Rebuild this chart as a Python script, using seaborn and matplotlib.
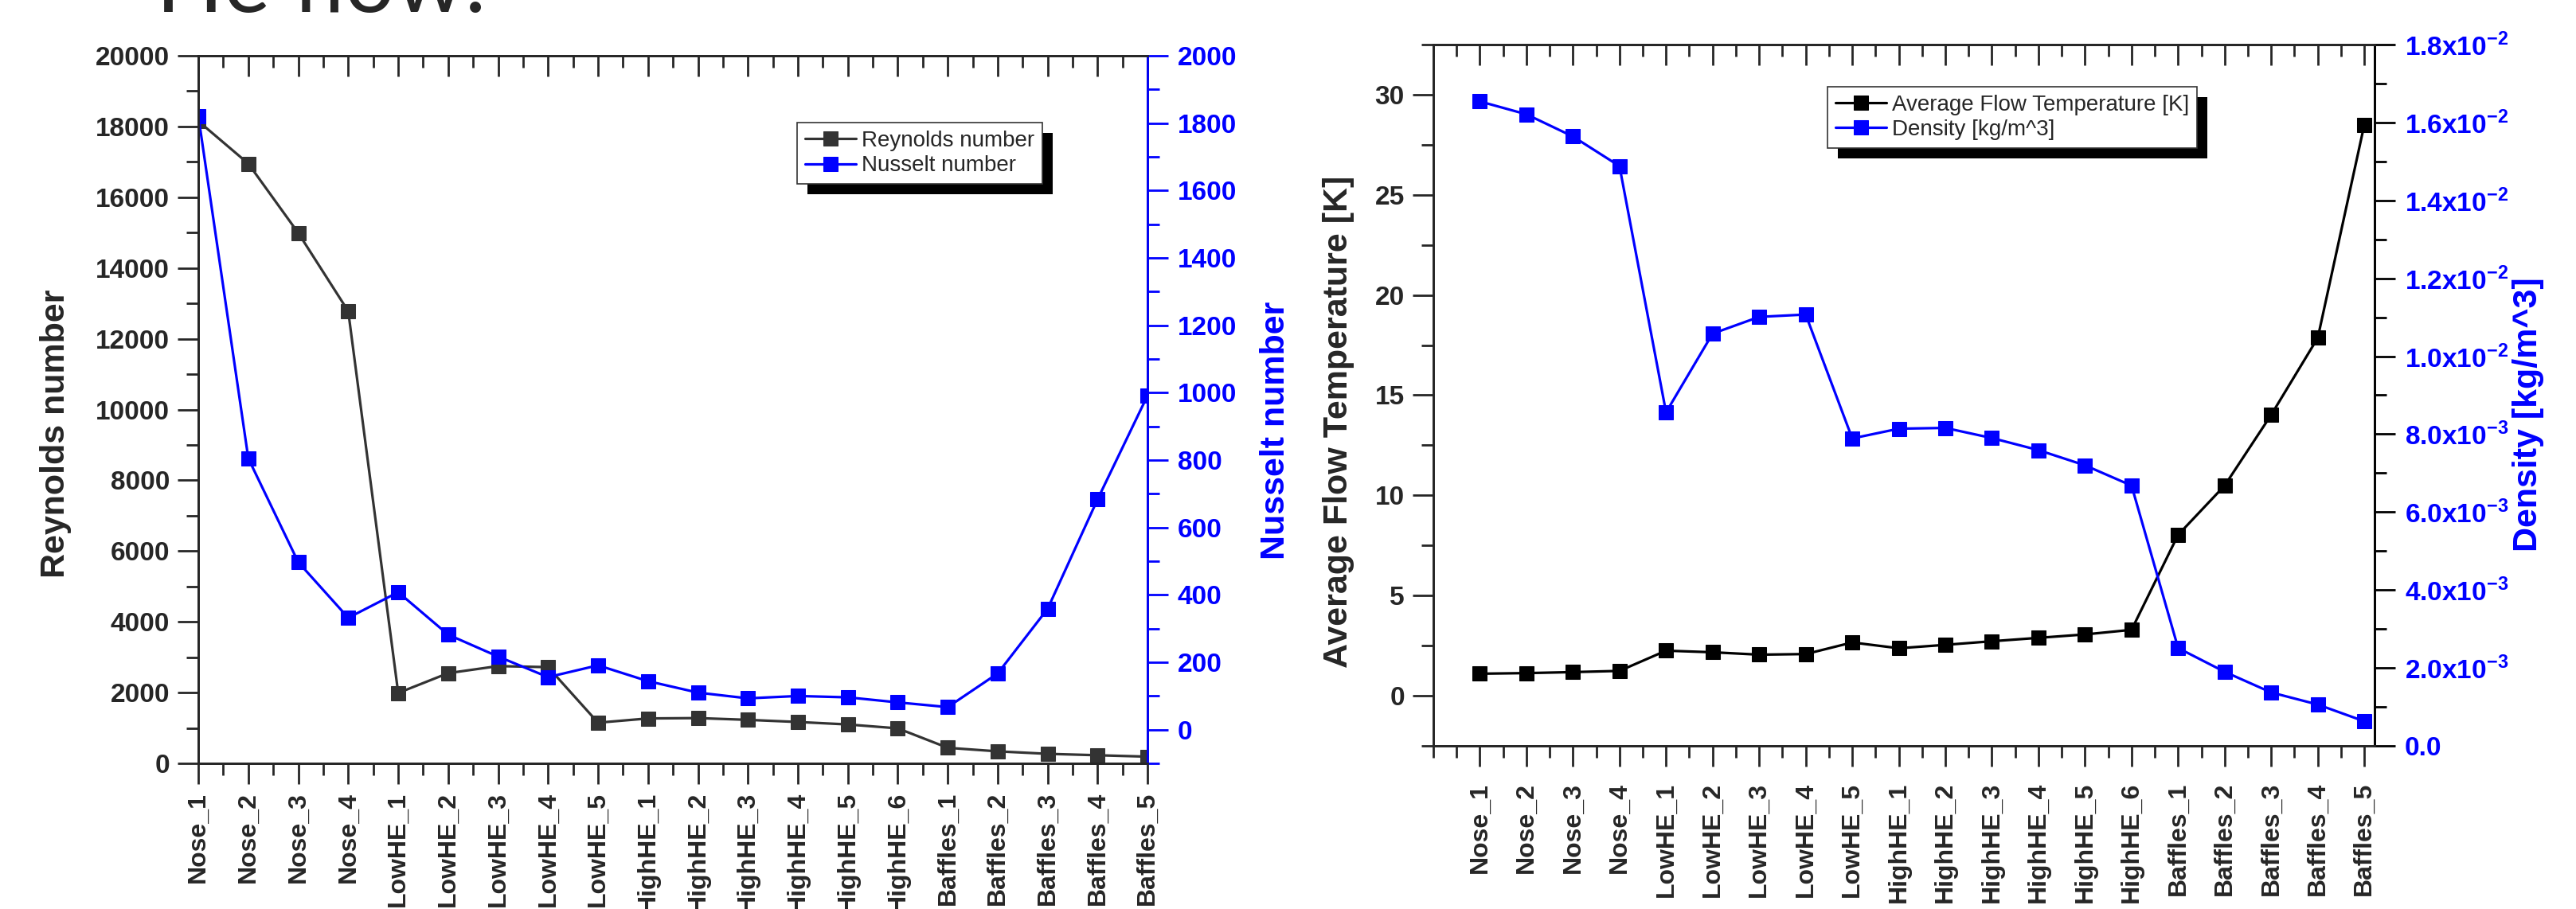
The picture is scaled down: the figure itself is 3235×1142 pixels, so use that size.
import numpy as np
import pandas as pd
import matplotlib
matplotlib.use("Agg")
import matplotlib.pyplot as plt
import seaborn as sns
from matplotlib.ticker import MultipleLocator, FuncFormatter
from matplotlib.patches import Rectangle
from matplotlib.transforms import offset_copy

zones = ["Nose_1", "Nose_2", "Nose_3", "Nose_4",
         "LowHE_1", "LowHE_2", "LowHE_3", "LowHE_4", "LowHE_5",
         "HighHE_1", "HighHE_2", "HighHE_3", "HighHE_4", "HighHE_5", "HighHE_6",
         "Baffles_1", "Baffles_2", "Baffles_3", "Baffles_4", "Baffles_5"]

reynolds = [18150, 16950, 14990, 12780, 1990, 2550, 2750, 2720, 1150,
            1270, 1280, 1230, 1170, 1100, 990, 440, 340, 270, 230, 190]
nusselt = [1821, 805, 497, 332, 408, 282, 217, 156, 191,
           144, 110, 93, 100, 96, 81, 67, 167, 359, 684, 992]
temperature = [1.10, 1.13, 1.18, 1.24, 2.25, 2.17, 2.05, 2.08, 2.66,
               2.37, 2.54, 2.72, 2.89, 3.06, 3.29, 8.03, 10.49, 14.02, 17.86, 28.5]
density = [0.01654, 0.01621, 0.01564, 0.01488, 0.00856, 0.01058, 0.01101, 0.01107, 0.00789,
           0.00814, 0.00816, 0.00790, 0.00759, 0.00720, 0.00668,
           0.00251, 0.00190, 0.00137, 0.00106, 0.00063]

df = pd.DataFrame({"zone": zones, "pos": np.arange(len(zones)),
                   "Re": reynolds, "Nu": nusselt, "T": temperature, "rho": density})

sns.set_style("ticks")
plt.rcParams["font.family"] = ["Liberation Sans", "DejaVu Sans"]
plt.rcParams["font.weight"] = "bold"
plt.rcParams["mathtext.fontset"] = "custom"
plt.rcParams["mathtext.rm"] = "Liberation Sans:bold"
plt.rcParams["mathtext.bf"] = "Liberation Sans:bold"
plt.rcParams["axes.linewidth"] = 2

GRAY = "#333333"
BLUE = "#0000ff"
TICK = 24
LAB = 31

fig = plt.figure(figsize=(32.35, 11.42), dpi=100)

# slide title, mostly cut off at the top
fig.text(196 / 3235, 1 - 15 / 1142, "He flow:", fontsize=80, fontweight="normal",
         family=["Lato", "DejaVu Sans"], ha="left", va="baseline")

ax1 = fig.add_axes([0.0770, 0.1602, 0.3685, 0.7785])
ax1b = ax1.twinx()
ax2 = fig.add_axes([0.5564, 0.1795, 0.3654, 0.7715])
ax2b = ax2.twinx()

line_kw = dict(marker="s", markersize=13, linewidth=2.3, legend=False)
sns.lineplot(data=df, x="pos", y="Re", ax=ax1, color=GRAY, markeredgecolor=GRAY, **line_kw)
sns.lineplot(data=df, x="pos", y="Nu", ax=ax1b, color=BLUE, markeredgecolor=BLUE, **line_kw)
sns.lineplot(data=df, x="pos", y="T", ax=ax2, color="black", markeredgecolor="black", **line_kw)
sns.lineplot(data=df, x="pos", y="rho", ax=ax2b, color=BLUE, markeredgecolor=BLUE, **line_kw)


def sci_fmt(v, pos):
    if abs(v) < 1e-12:
        return "0.0"
    m, e = f"{v:.1e}".split("e")
    return m + "x10$^{\\mathbf{" + str(int(e)) + "}}$"


def style_pair(ax, axr, xlim, right_color, xpad):
    ax.set_xlim(*xlim)
    ax.set_xticks(df["pos"])
    ax.set_xticklabels(zones, rotation=90, fontsize=23, fontweight="bold")
    ax.xaxis.set_minor_locator(MultipleLocator(0.5))
    ax.set_xlabel("")
    axr.set_xlabel("")
    ax.tick_params(axis="x", which="major", direction="out", length=19, width=2, pad=xpad)
    ax.tick_params(axis="x", which="minor", direction="out", length=11, width=2)
    ax.tick_params(axis="y", which="major", direction="out", length=19, width=2,
                   labelsize=TICK, pad=7, right=False)
    ax.tick_params(axis="y", which="minor", direction="out", length=11, width=2, right=False)
    # top ticks point inward
    axr.xaxis.set_visible(True)
    axr.tick_params(axis="x", which="both", bottom=False, top=True, labelbottom=False,
                    labeltop=False, direction="in", width=2)
    axr.tick_params(axis="x", which="major", length=19)
    axr.tick_params(axis="x", which="minor", length=11)
    axr.tick_params(axis="y", which="major", direction="out", length=19, width=2,
                    labelsize=TICK, pad=8, color=right_color, labelcolor=BLUE, left=False)
    axr.tick_params(axis="y", which="minor", direction="out", length=11, width=2,
                    color=right_color, left=False)
    axr.spines["right"].set_color(right_color)
    axr.spines["right"].set_linewidth(2)
    for a in (ax, axr):
        for lab in a.get_yticklabels():
            lab.set_fontweight("bold")


# left chart: Reynolds / Nusselt
style_pair(ax1, ax1b, (0, 19), BLUE, 7)
ax1.set_ylim(0, 20000)
ax1.yaxis.set_major_locator(MultipleLocator(2000))
ax1.yaxis.set_minor_locator(MultipleLocator(1000))
ax1b.set_ylim(-100, 2000)
ax1b.yaxis.set_major_locator(MultipleLocator(200))
ax1b.yaxis.set_minor_locator(MultipleLocator(100))
ax1.set_ylabel("Reynolds number", fontsize=LAB, fontweight="bold")
ax1b.set_ylabel("Nusselt number", fontsize=LAB, fontweight="bold", color=BLUE)
ax1.yaxis.label.set_va("center")
ax1b.yaxis.label.set_va("center")
ax1.yaxis.set_label_coords(-0.150, 0.466)
ax1b.yaxis.set_label_coords(1.135, 0.47)

# right chart: temperature / density
style_pair(ax2, ax2b, (-1, 19.22), "black", 14)
ax2.set_ylim(-2.5, 32.5)
ax2.yaxis.set_major_locator(MultipleLocator(5))
ax2.yaxis.set_minor_locator(MultipleLocator(2.5))
ax2b.set_ylim(0, 0.018)
ax2b.yaxis.set_major_locator(MultipleLocator(0.002))
ax2b.yaxis.set_minor_locator(MultipleLocator(0.001))
ax2b.yaxis.set_major_formatter(FuncFormatter(sci_fmt))
ax2.set_ylabel("Average Flow Temperature [K]", fontsize=LAB, fontweight="bold")
ax2b.set_ylabel("Density [kg/m^3]", fontsize=LAB, fontweight="bold", color=BLUE)
ax2.yaxis.label.set_va("center")
ax2b.yaxis.label.set_va("center")
ax2.yaxis.set_label_coords(-0.1007, 0.462)
ax2b.yaxis.set_label_coords(1.163, 0.472)

leg_kw = dict(loc="upper left", borderaxespad=0, prop={"size": 20, "weight": "normal"},
              frameon=True, fancybox=False, framealpha=1, edgecolor=GRAY,
              handlelength=2.3, handletextpad=0.25, borderpad=0.35, labelspacing=0.2)
leg1 = ax1b.legend(handles=[ax1.lines[0], ax1b.lines[0]],
                   labels=["Reynolds number", "Nusselt number"],
                   bbox_to_anchor=(0.631, 0.9055), **leg_kw)
leg2 = ax2b.legend(handles=[ax2.lines[0], ax2b.lines[0]],
                   labels=["Average Flow Temperature [K]", "Density [kg/m^3]"],
                   bbox_to_anchor=(0.419, 0.940), **leg_kw)
for leg in (leg1, leg2):
    leg.get_frame().set_linewidth(1.2)

# solid drop shadow behind each legend box
fig.canvas.draw()
for ax, leg in ((ax1b, leg1), (ax2b, leg2)):
    bb = leg.get_window_extent().transformed(ax.transAxes.inverted())
    shadow = Rectangle((bb.x0, bb.y0), bb.width, bb.height, facecolor="black",
                       edgecolor="none", zorder=4.9, clip_on=False,
                       transform=offset_copy(ax.transAxes, fig=fig, x=13, y=-13, units="dots"))
    ax.add_artist(shadow)

fig.savefig("out.png", dpi=100)
